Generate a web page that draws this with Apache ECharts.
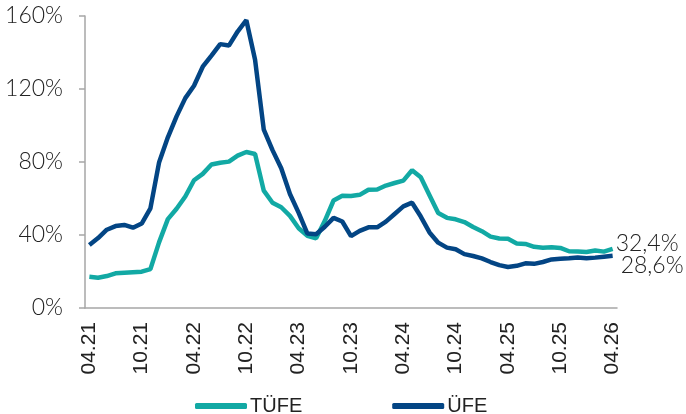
<!DOCTYPE html>
<html>
<head>
<meta charset="utf-8">
<script src="https://cdn.jsdelivr.net/npm/echarts@6/dist/echarts.min.js"></script>
<style>
  html, body { margin: 0; padding: 0; background: #fff; }
  #chart { width: 686px; height: 414px; }
</style>
</head>
<body>
<div id="chart"></div>
<script>
// aylar: 04.21 - 04.26
const months = [];
for (let y = 21; y <= 26; y++) {
  for (let m = 1; m <= 12; m++) {
    if ((y === 21 && m < 4) || (y === 26 && m > 4)) continue;
    months.push(String(m).padStart(2, '0') + '.' + y);
  }
}

// yıllık TÜFE (%)
const tufe = [
  17.1, 16.6, 17.5, 19.0, 19.3, 19.6, 19.9, 21.3, 36.1,
  48.7, 54.4, 61.1, 70.0, 73.5, 78.6, 79.6, 80.2, 83.5, 85.5, 84.4, 64.3,
  57.7, 55.2, 50.5, 43.7, 39.6, 38.2, 47.8, 58.9, 61.5, 61.4, 62.0, 64.8,
  64.9, 67.1, 68.5, 69.8, 75.5, 71.6, 61.8, 52.0, 49.4, 48.6, 47.1, 44.4,
  42.1, 39.1, 38.1, 37.9, 35.4, 35.1, 33.5, 33.0, 33.3, 32.9, 31.1, 30.9,
  30.7, 31.5, 30.9, 32.4
];

// yıllık ÜFE (%)
const ufe = [
  34.5, 38.3, 42.9, 44.9, 45.5, 44.0, 46.3, 54.6, 79.9,
  93.5, 105.0, 115.0, 121.8, 132.2, 138.3, 144.6, 143.8, 151.5, 157.7, 136.0, 97.7,
  86.5, 76.6, 62.5, 52.1, 40.8, 40.4, 44.5, 49.4, 47.4, 39.4, 42.3, 44.2,
  44.2, 47.3, 51.5, 55.7, 57.7, 50.1, 41.4, 35.8, 33.1, 32.2, 29.5, 28.5,
  27.2, 25.2, 23.5, 22.5, 23.1, 24.5, 24.2, 25.2, 26.6, 27.0, 27.2, 27.7,
  27.2, 27.6, 28.1, 28.6
];

const yTicks = [0, 40, 80, 120, 160];

const chart = echarts.init(document.getElementById('chart'));

const fmt = v => v.toFixed(1).replace('.', ',') + '%';
const lightFont = '"Lato Light", Lato, "Open Sans"';

chart.setOption({
  animation: false,
  grid: { left: 85, right: 69, top: 16, bottom: 106, containLabel: false },
  legend: {
    left: 190,
    top: 391,
    icon: 'roundRect',
    itemWidth: 52,
    itemHeight: 6,
    itemGap: 90,
    textStyle: { fontFamily: 'Liberation Sans', fontSize: 20, color: '#222', padding: [0, 0, 0, -2] },
    data: ['TÜFE', 'ÜFE']
  },
  xAxis: {
    type: 'category',
    data: months,
    boundaryGap: true,
    axisLine: { lineStyle: { color: '#a6a6a6', width: 1.5 } },
    axisTick: { interval: 5, length: 5, lineStyle: { color: '#a6a6a6', width: 1.5 } },
    axisLabel: {
      interval: 5,
      rotate: 90,
      margin: 14,
      fontFamily: 'Liberation Sans',
      fontSize: 21,
      color: '#222'
    }
  },
  yAxis: {
    type: 'value',
    min: yTicks[0],
    max: yTicks[yTicks.length - 1],
    interval: 40,
    splitLine: { show: false },
    axisLine: { show: true, lineStyle: { color: '#a6a6a6', width: 1.5 } },
    axisTick: { show: true, length: 6, lineStyle: { color: '#a6a6a6', width: 1.5 } },
    axisLabel: {
      formatter: '{value}%',
      margin: 22,
      fontFamily: lightFont,
      fontWeight: 300,
      fontSize: 23,
      color: '#222'
    }
  },
  series: [
    {
      name: 'TÜFE',
      type: 'line',
      data: tufe,
      showSymbol: false,
      symbol: 'none',
      color: '#12a9a4',
      lineStyle: { width: 4.5, color: '#12a9a4' },
      endLabel: {
        show: true,
        formatter: p => fmt(p.value),
        offset: [-5, -5],
        fontFamily: lightFont,
        fontWeight: 300,
        fontSize: 23,
        color: '#222'
      },
      z: 2
    },
    {
      name: 'ÜFE',
      type: 'line',
      data: ufe,
      showSymbol: false,
      symbol: 'none',
      color: '#034584',
      lineStyle: { width: 4.5, color: '#034584' },
      endLabel: {
        show: true,
        formatter: p => fmt(p.value),
        offset: [0, 10],
        fontFamily: lightFont,
        fontWeight: 300,
        fontSize: 23,
        color: '#222'
      },
      z: 3
    }
  ]
});
</script>
</body>
</html>
